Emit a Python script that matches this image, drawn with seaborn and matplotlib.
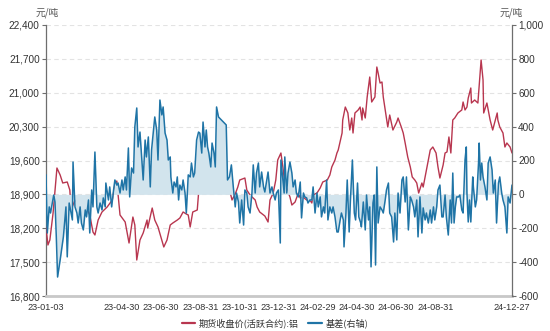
import matplotlib
matplotlib.use("Agg")
import matplotlib.pyplot as plt
from matplotlib.lines import Line2D
from matplotlib.ticker import FuncFormatter, FixedLocator
import seaborn as sns
import pandas as pd

# ---------------- data ----------------
price_dates = [
    "2023-01-03","2023-01-06","2023-01-09","2023-01-14","2023-01-20","2023-01-25","2023-01-29",
    "2023-02-05","2023-02-09","2023-02-11","2023-02-17","2023-02-25","2023-03-05","2023-03-12",
    "2023-03-17","2023-03-20","2023-03-25","2023-03-31","2023-04-08","2023-04-16","2023-04-20",
    "2023-04-23","2023-04-28","2023-05-06","2023-05-12","2023-05-18","2023-05-21","2023-05-24",
    "2023-05-29","2023-06-03","2023-06-09","2023-06-10","2023-06-17","2023-06-21","2023-06-26",
    "2023-07-01","2023-07-05","2023-07-10","2023-07-15","2023-07-19","2023-07-26","2023-07-30",
    "2023-08-04","2023-08-09","2023-08-12","2023-08-15","2023-08-19","2023-08-26","2023-08-30",
    "2023-09-04","2023-09-10","2023-09-15","2023-09-19","2023-09-26","2023-09-30","2023-10-05",
    "2023-10-11","2023-10-16","2023-10-19","2023-10-24","2023-10-28","2023-10-31","2023-11-08",
    "2023-11-11","2023-11-16","2023-11-24","2023-11-27","2023-12-01","2023-12-09","2023-12-14",
    "2023-12-17","2023-12-22","2023-12-26","2023-12-29","2024-01-03","2024-01-06","2024-01-09",
    "2024-01-17","2024-01-20","2024-01-25","2024-01-30","2024-02-02","2024-02-06","2024-02-12",
    "2024-02-17","2024-02-20","2024-02-22","2024-02-28","2024-03-04","2024-03-08","2024-03-15",
    "2024-03-19","2024-03-22","2024-03-27","2024-03-30","2024-04-01","2024-04-07","2024-04-08",
    "2024-04-12","2024-04-16","2024-04-19","2024-04-22","2024-04-24","2024-04-27","2024-05-02",
    "2024-05-05","2024-05-08","2024-05-09","2024-05-13","2024-05-16","2024-05-20","2024-05-23",
    "2024-05-28","2024-05-31","2024-06-02","2024-06-05","2024-06-08","2024-06-10","2024-06-13",
    "2024-06-17","2024-06-20","2024-06-25","2024-07-01","2024-07-03","2024-07-08","2024-07-11",
    "2024-07-14","2024-07-18","2024-07-22","2024-07-25","2024-07-29","2024-08-01","2024-08-04",
    "2024-08-09","2024-08-11","2024-08-17","2024-08-22","2024-08-26","2024-08-31","2024-09-03",
    "2024-09-06","2024-09-11","2024-09-14","2024-09-17","2024-09-20","2024-09-23","2024-09-26",
    "2024-09-29","2024-10-04","2024-10-10","2024-10-12","2024-10-15","2024-10-18","2024-10-20",
    "2024-10-24","2024-10-25","2024-10-30","2024-11-04","2024-11-09","2024-11-12","2024-11-13",
    "2024-11-18","2024-11-23","2024-11-27","2024-12-04","2024-12-05","2024-12-08","2024-12-13",
    "2024-12-16","2024-12-19","2024-12-24","2024-12-27",
]
price_values = [
    18226,17854,17957,18515,19445,19300,19135,
    19156,18990,18577,18784,18639,18680,18474,
    18122,18061,18370,18536,18639,18784,19094,
    19176,18474,18329,17895,18432,18267,17544,
    17957,18102,18370,18205,18618,18370,18226,
    17999,17813,17957,18267,18308,18370,18412,
    18536,18494,18474,18226,18536,18577,19259,
    19135,19238,19259,19300,19466,19362,19259,
    19135,18949,18784,18908,19052,19197,19238,
    18990,18887,18784,18639,18536,18453,18329,
    18784,18928,19197,19610,19755,19466,19135,
    18846,18680,18742,18928,18825,18846,18784,
    18784,18722,18887,18928,19032,19156,19197,
    19300,19466,19610,19755,19817,20168,20437,
    20705,20582,20230,20478,20168,20582,20644,
    20705,20437,20685,20478,20912,21325,20809,
    20912,21532,21408,21201,21222,20912,20644,
    20292,20540,20230,20396,20478,20292,20168,
    19962,19672,19466,19259,19197,19135,18928,
    19135,19052,19466,19817,19879,19755,19466,
    19238,19507,19755,19776,20086,19755,20437,
    20478,20582,20644,20809,20644,20705,20891,
    21098,20788,20850,20788,21677,21263,20582,
    20788,20437,20230,20582,20437,20292,20168,
    19879,19962,19879,19755,
]

basis_dates = [
    "2023-01-03","2023-01-05","2023-01-08","2023-01-10","2023-01-13","2023-01-15","2023-01-17",
    "2023-01-19","2023-01-21","2023-01-25","2023-01-30","2023-02-03","2023-02-05","2023-02-08",
    "2023-02-10","2023-02-13","2023-02-14","2023-02-17","2023-02-20","2023-02-22","2023-02-25",
    "2023-02-27","2023-03-02","2023-03-05","2023-03-07","2023-03-10","2023-03-12","2023-03-15",
    "2023-03-17","2023-03-20","2023-03-23","2023-03-25","2023-03-28","2023-03-31","2023-04-02",
    "2023-04-05","2023-04-06","2023-04-10","2023-04-12","2023-04-15","2023-04-18","2023-04-20",
    "2023-04-23","2023-04-25","2023-04-28","2023-05-01","2023-05-03","2023-05-06","2023-05-08",
    "2023-05-11","2023-05-13","2023-05-16","2023-05-19","2023-05-21","2023-05-24","2023-05-26",
    "2023-05-29","2023-06-01","2023-06-03","2023-06-06","2023-06-08","2023-06-11","2023-06-14",
    "2023-06-16","2023-06-19","2023-06-21","2023-06-24","2023-06-26","2023-06-29","2023-07-02",
    "2023-07-04","2023-07-07","2023-07-10","2023-07-12","2023-07-15","2023-07-16","2023-07-19",
    "2023-07-21","2023-07-24","2023-07-26","2023-07-28","2023-07-30","2023-08-02","2023-08-04",
    "2023-08-07","2023-08-09","2023-08-12","2023-08-15","2023-08-17","2023-08-20","2023-08-22",
    "2023-08-25","2023-08-28","2023-08-30","2023-09-02","2023-09-04","2023-09-07","2023-09-09",
    "2023-09-11","2023-09-13","2023-09-16","2023-09-18","2023-09-21","2023-09-23","2023-09-25",
    "2023-09-28","2023-10-10","2023-10-12","2023-10-15","2023-10-18","2023-10-21","2023-10-24",
    "2023-10-26","2023-10-29","2023-10-31","2023-11-03","2023-11-06","2023-11-08","2023-11-11",
    "2023-11-13","2023-11-16","2023-11-19","2023-11-21","2023-11-24","2023-11-26","2023-11-29",
    "2023-12-01","2023-12-04","2023-12-07","2023-12-09","2023-12-12","2023-12-14","2023-12-17",
    "2023-12-20","2023-12-22","2023-12-25","2023-12-27","2023-12-30","2024-01-02","2024-01-03",
    "2024-01-06","2024-01-08","2024-01-09","2024-01-12","2024-01-14","2024-01-17","2024-01-20",
    "2024-01-22","2024-01-25","2024-01-27","2024-01-30","2024-02-02","2024-02-04","2024-02-07",
    "2024-02-09","2024-02-12","2024-02-14","2024-02-17","2024-02-20","2024-02-22","2024-02-25",
    "2024-02-28","2024-03-01","2024-03-04","2024-03-06","2024-03-09","2024-03-11","2024-03-14",
    "2024-03-16","2024-03-19","2024-03-22","2024-03-24","2024-03-27","2024-03-30","2024-04-01",
    "2024-04-04","2024-04-06","2024-04-09","2024-04-10","2024-04-13","2024-04-15","2024-04-18",
    "2024-04-20","2024-04-23","2024-04-26","2024-04-28","2024-05-01","2024-05-03","2024-05-06",
    "2024-05-07","2024-05-10","2024-05-13","2024-05-15","2024-05-18","2024-05-20","2024-05-22",
    "2024-05-25","2024-05-27","2024-05-29","2024-05-31","2024-06-02","2024-06-05","2024-06-08",
    "2024-06-10","2024-06-13","2024-06-15","2024-06-18","2024-06-20","2024-06-23","2024-06-26",
    "2024-06-28","2024-07-01","2024-07-03","2024-07-06","2024-07-09","2024-07-11","2024-07-14",
    "2024-07-16","2024-07-19","2024-07-22","2024-07-24","2024-07-27","2024-07-29","2024-08-01",
    "2024-08-03","2024-08-06","2024-08-09","2024-08-11","2024-08-14","2024-08-16","2024-08-19",
    "2024-08-22","2024-08-24","2024-08-27","2024-08-29","2024-09-01","2024-09-03","2024-09-06",
    "2024-09-09","2024-09-11","2024-09-14","2024-09-16","2024-09-19","2024-09-22","2024-09-24",
    "2024-09-26","2024-09-28","2024-09-30","2024-10-02","2024-10-05","2024-10-07","2024-10-10",
    "2024-10-12","2024-10-15","2024-10-17","2024-10-18","2024-10-20","2024-10-22","2024-10-24",
    "2024-10-27","2024-10-28","2024-10-31","2024-11-02","2024-11-05","2024-11-06","2024-11-08",
    "2024-11-10","2024-11-12","2024-11-15","2024-11-18","2024-11-20","2024-11-23","2024-11-26",
    "2024-11-28","2024-12-01","2024-12-03","2024-12-06","2024-12-08","2024-12-11","2024-12-13",
    "2024-12-16","2024-12-19","2024-12-21","2024-12-24","2024-12-27",
]
basis_values = [
    115,-228,-74,-110,-45,-4,-45,
    -251,-488,-387,-251,-74,-369,-51,
    -92,-151,191,-74,-110,-169,-74,
    -169,-210,-92,-133,-33,-228,26,
    -74,250,-74,-110,-51,-92,-21,
    -74,67,-33,44,-74,26,85,
    55,67,8,85,26,103,26,
    274,-15,156,126,398,510,280,
    368,203,85,321,221,339,44,
    262,380,457,380,203,557,469,
    516,362,321,203,221,103,8,
    73,44,103,-33,55,26,85,
    8,-110,115,103,185,103,126,
    321,368,362,244,427,280,380,
    280,244,162,303,244,162,516,
    457,410,85,103,174,44,-74,
    8,-45,-169,-33,-181,26,8,
    -74,-110,8,174,8,126,185,
    44,132,44,14,85,132,8,
    44,8,-33,8,26,-287,203,
    85,8,221,8,126,191,126,
    44,85,8,-15,73,-139,8,
    -15,-21,-51,-33,-33,44,-110,
    8,-74,-15,-133,-74,-110,85,
    -151,-74,-110,-74,-133,-222,-222,
    -151,-110,-151,-310,-110,85,-222,
    -33,203,-110,-151,67,-133,-169,
    -192,-45,-210,-4,-151,-74,-428,
    -51,-4,-417,162,-169,-74,-92,
    -110,-33,26,67,-110,-133,-281,
    -110,-269,8,-110,85,103,-45,
    103,-210,-15,-33,-74,-133,-33,
    -251,-15,-228,-80,-151,-110,-169,
    -92,-169,-74,-151,-74,26,55,
    -133,-133,-4,-133,-240,-33,-169,
    126,-169,-74,-15,-15,-4,-92,
    -110,203,280,8,-163,-33,-163,
    103,44,-74,-33,185,303,85,
    185,103,44,-33,185,221,144,
    8,85,-169,67,103,8,-33,
    -74,-228,-15,-51,55,
]

tick_dates = ["2023-01-03","2023-02-28","2023-04-30","2023-06-30","2023-08-31","2023-10-31",
              "2023-12-31","2024-02-29","2024-04-30","2024-06-30","2024-08-31","2024-10-31",
              "2024-12-27"]
tick_labels = ["23-01-03","","23-04-30","23-06-30","23-08-31","23-10-31","23-12-31",
               "24-02-29","24-04-30","24-06-30","24-08-31","","24-12-27"]
left_ticks = [16800,17500,18200,18900,19600,20300,21000,21700,22400]
right_ticks = [-600,-400,-200,0,200,400,600,800,1000]
label_price = "期货收盘价(活跃合约):铝"
label_basis = "基差(右轴)"
unit = "元/吨"

# ---------------- style ----------------
sns.set_theme(style="white")
plt.rcParams["font.family"] = ["Noto Sans CJK SC", "DejaVu Sans"]
plt.rcParams["axes.unicode_minus"] = False
NUMFONT = ["Liberation Sans", "DejaVu Sans"]

RED = "#b8364f"
BLUE = "#1f74a6"
FILL = "#d2e4ed"
TXT = "#333333"
AX = "#6e6e6e"

df_p = pd.DataFrame({"date": pd.to_datetime(price_dates), "v": price_values})
df_b = pd.DataFrame({"date": pd.to_datetime(basis_dates), "v": basis_values})

fig = plt.figure(figsize=(5.5, 3.31), dpi=100)
ax1 = fig.add_axes([46/550, 1-296/331, (512-46)/550, (296-25)/331])
ax2 = ax1.twinx()

sns.lineplot(data=df_p, x="date", y="v", ax=ax1, color=RED, linewidth=1.0, zorder=3)
ax2.fill_between(df_b["date"], df_b["v"], 0, color=FILL, linewidth=0, zorder=1)
sns.lineplot(data=df_b, x="date", y="v", ax=ax2, color=BLUE, linewidth=1.1, zorder=2)

ax1.set_ylim(16800, 22400)
ax2.set_ylim(-600, 1000)
ax1.set_xlim(pd.Timestamp("2023-01-03"), pd.Timestamp("2024-12-27"))

ax1.yaxis.set_major_locator(FixedLocator(left_ticks))
ax2.yaxis.set_major_locator(FixedLocator(right_ticks))
fmt = FuncFormatter(lambda v, p: f"{int(v):,}")
ax1.yaxis.set_major_formatter(fmt)
ax2.yaxis.set_major_formatter(fmt)

ax1.set_xticks(pd.to_datetime(tick_dates))
ax1.set_xticklabels(tick_labels)

for ax in (ax1, ax2):
    ax.set_xlabel("")
    ax.set_ylabel("")
    ax.spines["top"].set_visible(False)
    ax.tick_params(axis="y", labelsize=7.2, colors=TXT, length=3, width=0.8, pad=1.5)
    for lab in ax.get_xticklabels() + ax.get_yticklabels():
        lab.set_fontfamily(NUMFONT)

ax1.tick_params(axis="x", labelsize=6.6, colors=TXT, length=3, width=0.8, pad=2)
for lab in ax1.get_xticklabels():
    lab.set_fontfamily(NUMFONT)

ax1.yaxis.grid(True, linestyle=(0, (4, 3)), color="#e3e3e3", linewidth=0.8)
ax1.set_axisbelow(True)
ax1.spines["left"].set_color(AX)
ax1.spines["left"].set_linewidth(0.9)
ax2.spines["right"].set_color(AX)
ax2.spines["right"].set_linewidth(0.9)
ax1.spines["right"].set_visible(False)
ax2.spines["left"].set_visible(False)
ax1.spines["bottom"].set_color("#c8c8c8")
ax1.spines["bottom"].set_linewidth(2.0)
ax2.spines["bottom"].set_visible(False)
ax1.tick_params(axis="x", which="both", color=AX)
ax1.tick_params(axis="y", color=AX)
ax2.tick_params(axis="y", color=AX)

fig.text(36/550, 1-13/331, unit, fontsize=7.0, color="#555555", va="center", ha="left")
fig.text(523/550, 1-13/331, unit, fontsize=7.0, color="#555555", va="center", ha="right")

handles = [Line2D([0], [0], color=RED, lw=1.6), Line2D([0], [0], color=BLUE, lw=1.6)]
fig.legend(handles, [label_price, label_basis], loc="center", bbox_to_anchor=(0.5, 1-323/331),
           ncol=2, frameon=False, fontsize=6.6, handlelength=1.5, handletextpad=0.4,
           columnspacing=1.0, labelcolor=TXT)

fig.savefig("out.png", dpi=100)
